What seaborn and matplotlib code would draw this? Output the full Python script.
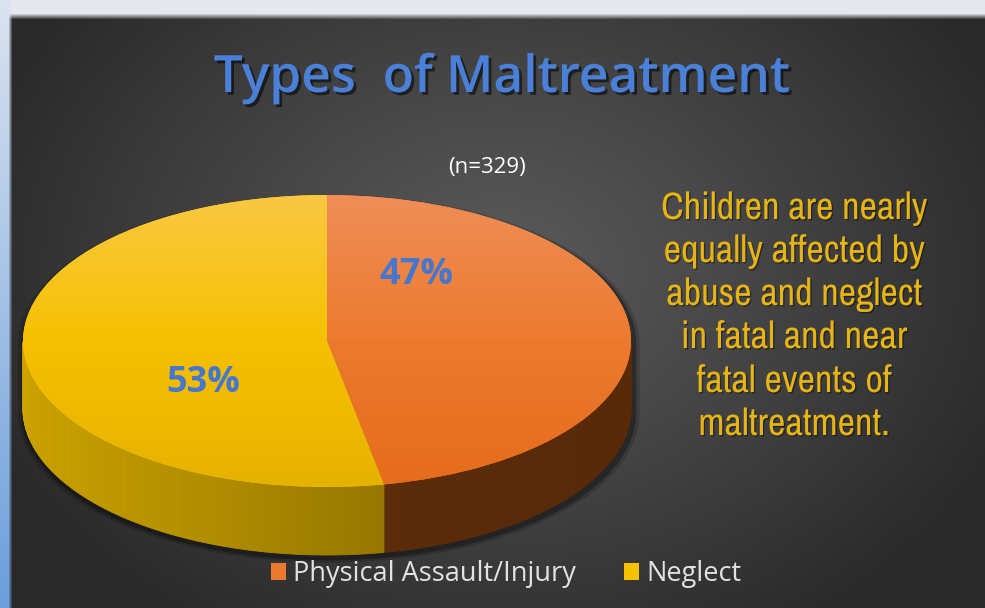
import numpy as np
import matplotlib
matplotlib.use("Agg")
import matplotlib.pyplot as plt
import matplotlib.patheffects as pe
from matplotlib.colors import LinearSegmentedColormap
import seaborn as sns

# ---- data -------------------------------------------------------------
categories = ["Physical Assault/Injury", "Neglect"]
shares = [47, 53]                      # percent of cases
sample_size = 329
title_text = "Types  of Maltreatment"
note_lines = [
    "Children are nearly",
    "equally affected by",
    "abuse and neglect",
    "in fatal and near",
    "fatal events of",
    "maltreatment.",
]

# ---- style --------------------------------------------------------------
sns.set_theme(style="white")
plt.rcParams["font.family"] = ["Open Sans", "DejaVu Sans"]

top_colors = ["#EC7A2E", "#F6C100"]
top_light = ["#EF8E58", "#FAC842"]
top_dark = ["#E66C1C", "#E6B200"]
wall_left = ["#62300E", "#CCA300"]
wall_right = ["#582A08", "#735A00"]

W, H = 985, 608
fig = plt.figure(figsize=(W / 100, H / 100), dpi=100)

# ---- backdrop: dark radial panel with a light frame at top and left ----
bg = fig.add_axes([0, 0, 1, 1])
yy, xx = np.mgrid[0:H, 0:W].astype(float)
r = np.clip(np.sqrt(((xx - 500) / 560) ** 2 + ((yy - 270) / 430) ** 2), 0, 1)
lev = (0x5A - (0x5A - 0x29) * r ** 1.1) / 255.0
img = np.dstack([lev, lev, lev])
top_mask = np.clip((yy - 13) / 6.0, 0, 1)[..., None]
img = img * top_mask + np.array([0.90, 0.91, 0.94]) * (1 - top_mask)
left_mask = np.clip((xx - 8) / 4.0, 0, 1)[..., None]
t = (yy / H)[..., None]
left_col = np.array([0.86, 0.89, 0.94]) * (1 - t) + np.array([0.42, 0.62, 0.86]) * t
img = img * left_mask + left_col * (1 - left_mask)
bg.imshow(img, extent=(0, W, H, 0), aspect="auto", interpolation="bilinear")
bg.set_xlim(0, W)
bg.set_ylim(H, 0)
bg.axis("off")

# ---- pie axes: one data unit = semi-axes of the tilted disc -------------
cx, cy = 327, 341          # disc centre (px)
ax_px, by_px = 304, 146     # semi-axes (px)
depth = 68 / by_px          # wall height in data units
xl, yl = (-1.06, 1.06), (-1.75, 1.2)
left = (cx + xl[0] * ax_px) / W
bottom = (H - (cy - yl[0] * by_px)) / H
ax = fig.add_axes([left, bottom, (xl[1] - xl[0]) * ax_px / W,
                   (yl[1] - yl[0]) * by_px / H])
ax.patch.set_alpha(0)

# thin soft shadow around the disc
th = np.linspace(0, 2 * np.pi, 400)
sil_x = np.cos(th)
sil_y = np.where(np.sin(th) >= 0, np.sin(th), np.sin(th) - depth)
for k, a in zip([0.022, 0.011], [0.16, 0.3]):
    ax.fill(sil_x * (1 + k) + 0.006, sil_y * (1 + k) - 0.02,
            color="black", alpha=a, lw=0, zorder=1)

# top faces
wedges, _ = ax.pie(shares, colors=top_colors, startangle=90, counterclock=False,
                   radius=1, wedgeprops=dict(linewidth=0))
for w in wedges:
    w.set_zorder(4)

# shading of the top faces
grad = np.linspace(0, 1, 256)[:, None] * np.ones((1, 4))
for i, w in enumerate(wedges):
    cmap = LinearSegmentedColormap.from_list(
        f"face{i}", [top_light[i], top_colors[i], top_dark[i]])
    im = ax.imshow(grad, extent=(-1, 1, -1, 1), cmap=cmap, aspect="auto",
                   origin="upper", zorder=4.5, interpolation="bilinear")
    im.set_clip_path(w)

# front walls
total = float(sum(shares))
start = 90.0
for i, v in enumerate(shares):
    sweep = 360.0 * v / total
    angs = np.linspace(start, start - sweep, 240)
    cmap = LinearSegmentedColormap.from_list(f"wall{i}", [wall_left[i], wall_right[i]])
    for a0, a1 in zip(angs[:-1], angs[1:]):
        am = np.deg2rad((a0 + a1) / 2)
        if np.sin(am) >= 0:
            continue
        t0, t1 = np.deg2rad(a0), np.deg2rad(a1)
        xs = [np.cos(t0), np.cos(t1), np.cos(t1), np.cos(t0)]
        ys = [np.sin(t0), np.sin(t1), np.sin(t1) - depth, np.sin(t0) - depth]
        c = cmap((np.cos(am) + 1) / 2)
        ax.fill(xs, ys, color=c, lw=0.6, ec=c, zorder=3)
    start -= sweep

# value labels on the top faces
label_pos = [(0.294, 0.45), (-0.408, -0.29)]
for v, (lx, ly) in zip(shares, label_pos):
    ax.text(lx, ly, f"{v}%", ha="center", va="center", fontsize=26,
            fontweight="bold", color="#4577CE", zorder=6)

ax.set_aspect("auto")
ax.set_xlim(*xl)
ax.set_ylim(*yl)
ax.axis("off")

# ---- texts -------------------------------------------------------------
def fx(x):
    return x / W

def fy(y):
    return 1 - y / H

fig.text(fx(502), fy(92), title_text, ha="center", va="baseline", fontsize=37,
         fontweight="semibold", color="#4A80D8",
         path_effects=[pe.SimplePatchShadow(offset=(2, -2), shadow_rgbFace="black",
                                            alpha=0.55), pe.Normal()])
fig.text(fx(487), fy(173), f"(n={sample_size})", ha="center", va="baseline",
         fontsize=16, color="white")

baselines = [219, 262, 305, 348, 392, 435]
for line, b in zip(note_lines, baselines):
    fig.text(fx(794), fy(b), line, ha="center", va="baseline", fontsize=27.5,
             color="#E6B414", family=["Archivo Narrow", "DejaVu Sans"],
             path_effects=[pe.SimplePatchShadow(offset=(1, -1), shadow_rgbFace="black",
                                                alpha=0.4), pe.Normal()])

leg = fig.legend(wedges, categories, loc="center", bbox_to_anchor=(fx(506), fy(574)),
                 bbox_transform=fig.transFigure, ncol=2, frameon=False,
                 prop=dict(size=19.5, weight="medium"),
                 handlelength=0.55, handleheight=0.55,
                 handletextpad=0.26, columnspacing=1.8, labelcolor="#E2E2E2")

fig.savefig("out.png", dpi=100)
